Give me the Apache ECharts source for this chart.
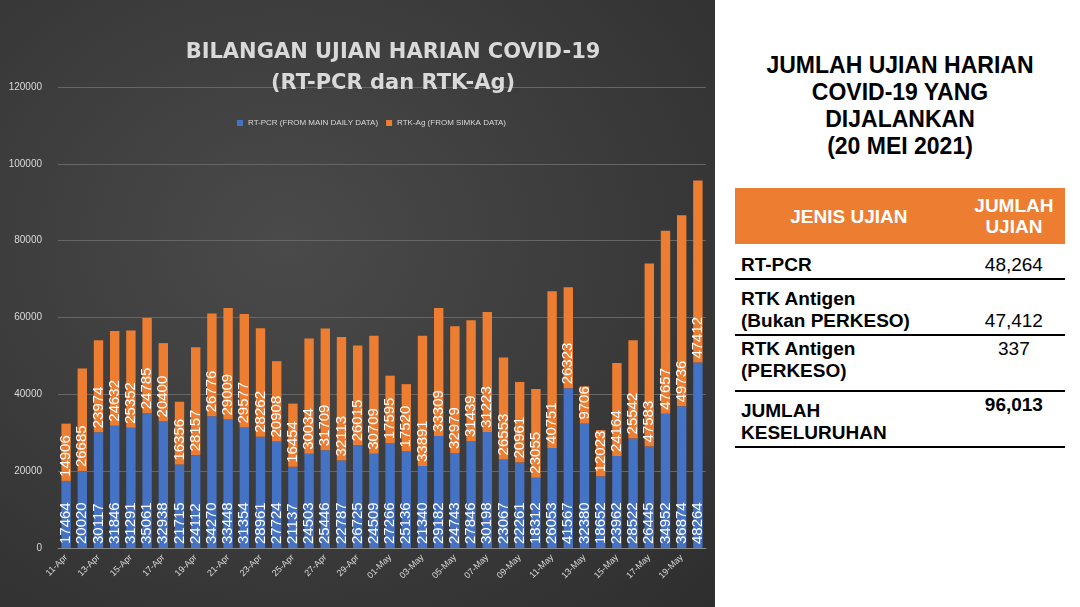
<!DOCTYPE html>
<html><head><meta charset="utf-8">
<script src="https://cdn.jsdelivr.net/npm/echarts@6/dist/echarts.min.js"></script>
<style>
body{margin:0;width:1080px;height:607px;overflow:hidden;font-family:"Liberation Sans",Arial,sans-serif;background:#fff}
#chart{position:absolute;left:0;top:0;width:715px;height:607px;background:radial-gradient(ellipse at 40% 40%,#4a4a4a,#2e2e2e)}
#side{position:absolute;left:735px;top:52px;width:330px}
#side h2{margin:0 0 28px;text-align:center;font-size:23px;line-height:27px;font-weight:bold;color:#000}
table{width:100%;border-collapse:collapse;font-size:19px}
th{background:#ED7D31;color:#fff;font-size:19px;height:54px;line-height:21px}
td{border-bottom:2px solid #000;padding:2px 6px;color:#000;vertical-align:bottom}
td.v{text-align:center}
</style></head><body>
<div id="chart"></div>
<div id="side">
<h2>JUMLAH UJIAN HARIAN<br>COVID-19 YANG<br>DIJALANKAN<br>(20 MEI 2021)</h2>
<table>
<tr><th>JENIS UJIAN</th><th>JUMLAH<br>UJIAN</th></tr>
<tr><td style="height:30px"><b>RT-PCR</b></td><td class="v">48,264</td></tr>
<tr><td style="height:50px"><b>RTK Antigen<br>(Bukan PERKESO)</b></td><td class="v">47,412</td></tr>
<tr><td style="height:50px;vertical-align:top"><b>RTK Antigen<br>(PERKESO)</b></td><td class="v" style="vertical-align:top">337</td></tr>
<tr><td style="height:50px"><b>JUMLAH<br>KESELURUHAN</b></td><td class="v" style="vertical-align:top"><b>96,013</b></td></tr>
</table>
</div>
<script>
const dates = ["11-Apr","12-Apr","13-Apr","14-Apr","15-Apr","16-Apr","17-Apr","18-Apr","19-Apr","20-Apr",
  "21-Apr","22-Apr","23-Apr","24-Apr","25-Apr","26-Apr","27-Apr","28-Apr","29-Apr","30-Apr",
  "01-May","02-May","03-May","04-May","05-May","06-May","07-May","08-May","09-May","10-May",
  "11-May","12-May","13-May","14-May","15-May","16-May","17-May","18-May","19-May","20-May"];
const rtpcr = [17464,20020,30117,31846,31291,35061,32938,21715,24112,34270,
  33448,31354,28961,27724,21137,24503,25446,22787,26725,24509,
  27266,25136,21340,29182,24743,27846,30198,23067,22261,18312,
  26053,41567,32380,18652,23962,28522,26445,34952,36874,48264];
const rtkag = [14906,26685,23974,24632,25352,24785,20400,16356,28157,26776,
  29009,29577,28262,20908,16454,30034,31709,32113,26015,30709,
  17595,17520,33891,33309,32979,31439,31223,26553,20961,23055,
  40751,26323,9706,12023,24164,25542,47583,47657,49736,47412];

let chart = echarts.init(document.getElementById("chart"));
const lbl = {show:true, position:"insideBottom", rotate:90, align:"left", verticalAlign:"middle",
  distance:4, color:"#fff", fontSize:15};
chart.setOption({
  title:{text:"BILANGAN UJIAN HARIAN COVID-19\n(RT-PCR dan RTK-Ag)", left:388, textAlign:"center", top:32,
    textStyle:{color:"#d9d9d9", fontSize:21, fontWeight:"bold", lineHeight:31, fontFamily:"DejaVu Sans"}},
  legend:{top:114, left:232, itemWidth:6, itemHeight:6, icon:"rect",
    textStyle:{color:"#d9d9d9", fontSize:8},
    data:["RT-PCR (FROM MAIN DAILY DATA)","RTK-Ag (FROM SIMKA DATA)"]},
  grid:{left:58, right:9, top:87, bottom:59},
  xAxis:{type:"category", data:dates, axisTick:{show:false},
    axisLine:{lineStyle:{color:"#888"}},
    axisLabel:{color:"#d9d9d9", fontSize:9, rotate:45, interval:1}},
  yAxis:{type:"value", min:0, max:120000, interval:20000,
    axisLabel:{color:"#d9d9d9", fontSize:10, margin:16, formatter:v => String(v)},
    splitLine:{lineStyle:{color:"#666"}}},
  series:[
    {name:"RT-PCR (FROM MAIN DAILY DATA)", type:"bar", stack:"t", data:rtpcr, barWidth:"58%",
      itemStyle:{color:"#4472C4"}, label:lbl},
    {name:"RTK-Ag (FROM SIMKA DATA)", type:"bar", stack:"t", data:rtkag,
      itemStyle:{color:"#ED7D31"}, label:lbl}
  ]
});
</script>
</body></html>
